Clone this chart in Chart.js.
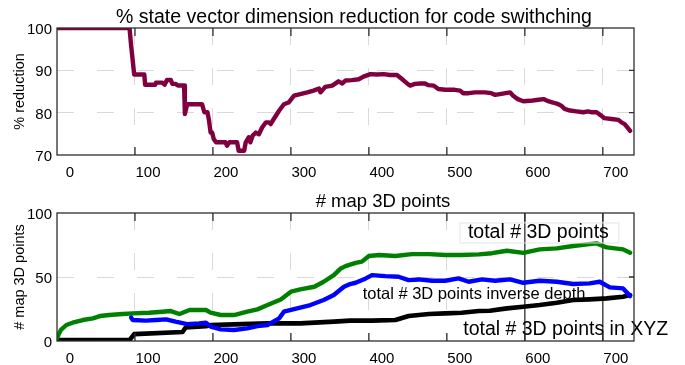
<!DOCTYPE html>
<html>
<head>
<meta charset="utf-8">
<script src="https://cdn.jsdelivr.net/npm/chart.js@4.4.1/dist/chart.umd.min.js"></script>
<style>
  html, body { margin: 0; padding: 0; background: #fff; }
  #wrap { position: relative; width: 685px; height: 365px; }
  canvas { position: absolute; left: 0; }
</style>
</head>
<body>
<div id="wrap">
  <canvas id="reduction" width="685" height="180" style="top:0"></canvas>
  <canvas id="points" width="685" height="185" style="top:180px"></canvas>
</div>
<script>
const FONT = '"Liberation Sans", Arial, Helvetica, sans-serif';

// axis ticks
const xTicks = [0, 100, 200, 300, 400, 500, 600, 700];
const reductionTicks = [70, 80, 90, 100];
const pointTicks = [0, 50, 100];

// % reduction of the state vector per frame
const reductionFrames = [0, 93, 95, 99, 112, 113, 126, 127, 135, 138, 141, 146, 148, 152, 155, 163, 164, 167, 186, 189,
  193, 195, 197, 199, 201, 204, 216, 218, 221, 231, 233, 240, 242, 246, 248, 251, 255, 259, 263, 268,
  272, 274, 278, 285, 291, 297, 304, 312, 321, 329, 336, 338, 344, 353, 361, 366, 370, 378, 387, 393,
  402, 410, 419, 427, 436, 440, 444, 449, 453, 459, 466, 472, 476, 483, 489, 498, 510, 517, 521, 528,
  536, 549, 557, 562, 568, 581, 585, 591, 598, 607, 615, 624, 630, 636, 643, 647, 651, 658, 666, 675,
  681, 685, 692, 698, 702, 711, 720, 724, 728, 732, 735];
const reductionPct = [100, 100, 96, 89, 89, 86.6, 86.6, 87.1, 87.1, 86.6, 87.7, 87.7, 86.8, 86.8, 86.4, 86.4, 79.7, 82, 82, 80.1,
  80.1, 78.1, 75.3, 75.3, 73.8, 73, 73, 72.2, 73, 73, 71, 71, 73, 74.2, 73, 74.6, 75.3, 74.9, 76.5, 77.7,
  77.7, 77.3, 78.5, 80.5, 82, 82.4, 84, 84.4, 84.8, 85.2, 85.7, 84.8, 86.1, 86.4, 87.4, 86.9, 87.6, 87.7, 87.9, 88.5,
  89.1, 89, 89.1, 88.9, 88.9, 88.3, 87.7, 86.9, 86.4, 86.8, 86.9, 86.9, 86.5, 86.4, 85.6, 85.4, 85.4, 85.2, 84.6, 84.6,
  84.8, 84.8, 84.6, 84.2, 84.4, 84.8, 84, 83.2, 82.7, 82.8, 83, 83.2, 82.7, 82.4, 82, 81.6, 80.9, 80.5, 80.3, 80.1,
  80.3, 80.1, 80.1, 79.3, 78.7, 78.5, 78.3, 77.7, 77.3, 76.4, 75.7];

// total number of map points
const totalFrames = [0, 2, 5, 12, 20, 33, 46, 55, 67, 84, 97, 118, 135, 146, 157, 170, 191, 197, 210, 227,
  244, 257, 270, 287, 300, 312, 330, 342, 355, 364, 370, 383, 391, 400, 413, 434, 455, 477, 498, 519,
  541, 558, 577, 598, 619, 641, 662, 683, 692, 705, 726, 735];
const totalPoints = [2, 5, 8.6, 12.5, 14.3, 16.4, 17.7, 19.5, 20.3, 21.1, 21.6, 22.1, 22.9, 23.4, 21.1, 24.2, 24.2, 22.1, 20.3, 20.3,
  22.9, 24.7, 28.1, 32.5, 38.5, 40.3, 42.4, 46.3, 51.5, 56.7, 58.5, 61, 62, 66.4, 67.2, 66.4, 67.9, 67.9, 67.2, 67.2,
  67.7, 68.6, 70.5, 68.9, 71.6, 72.4, 74.2, 75.7, 76.3, 73.1, 71.6, 68.9];

// points held in inverse depth
const invDepthFrames = [95, 97, 114, 127, 140, 152, 167, 182, 191, 197, 210, 227, 244, 257, 270, 285, 291, 308, 325, 342,
  355, 368, 376, 383, 396, 404, 421, 438, 451, 464, 481, 498, 515, 528, 545, 562, 581, 598, 619, 641,
  662, 683, 696, 709, 726, 735];
const invDepthPoints = [18.5, 16.4, 15.9, 16.4, 16.9, 15.1, 13.2, 13.8, 14.3, 11.2, 9.1, 8.6, 9.9, 11.7, 12.5, 17.7, 22.9, 25.5, 28.1, 32,
  35.9, 42.4, 44.5, 45.5, 48.9, 51.5, 50.7, 50.2, 47.6, 48.1, 47.1, 47.1, 48.9, 46.3, 48.1, 47.1, 48.1, 45.5, 47.1, 46.3,
  44.5, 45, 46.3, 41.9, 41.1, 35.1];

// points held in XYZ
const xyzFrames = [0, 93, 99, 161, 165, 191, 197, 227, 270, 312, 355, 376, 404, 434, 451, 477, 498, 519, 541, 555,
  577, 598, 619, 641, 662, 683, 705, 726, 735];
const xyzPoints = [0.7, 0.7, 5.4, 7, 10.6, 11.5, 12.5, 13, 13.8, 13.8, 15.1, 15.9, 15.9, 16.4, 19.5, 21.1, 21.6, 22.1, 23.4, 23.6,
  25.5, 26.8, 28.1, 29.9, 32, 32.5, 33.3, 34.6, 35.9];

// frames marked with solid vertical lines
const markerFrames = [600, 700];

function pairs(xs, ys) {
  return xs.map((x, i) => ({ x: x, y: ys[i] }));
}

// box, inner ticks, marker lines, text labels and the title
const boxPlugin = {
  id: 'box',
  beforeDatasetsDraw(chart, args, opts) {
    const { ctx, chartArea: a } = chart;
    const xs = chart.scales.x;
    ctx.save();
    ctx.strokeStyle = '#3c3c3c';
    ctx.lineWidth = 1.4;
    (opts.markers || []).forEach(v => {
      const px = xs.getPixelForValue(v);
      ctx.beginPath();
      ctx.moveTo(px, a.top);
      ctx.lineTo(px, a.bottom);
      ctx.stroke();
    });
    ctx.restore();
  },
  afterDatasetsDraw(chart, args, opts) {
    const { ctx } = chart;
    const xs = chart.scales.x, ys = chart.scales.y;
    ctx.save();
    (opts.labels || []).forEach(l => {
      ctx.font = l.size + 'px ' + FONT;
      ctx.textAlign = 'left';
      ctx.textBaseline = 'middle';
      const px = xs.getPixelForValue(l.x), py = ys.getPixelForValue(l.y);
      if (l.boxed) {
        const w = ctx.measureText(l.text).width;
        ctx.strokeStyle = '#e4e4e4';
        ctx.lineWidth = 1;
        ctx.strokeRect(px - 8, py - 10, w + 18, 20);
      }
      ctx.fillStyle = '#000';
      ctx.fillText(l.text, px, py);
    });
    ctx.restore();
  },
  afterDraw(chart, args, opts) {
    const { ctx, chartArea: a } = chart;
    const xs = chart.scales.x, ys = chart.scales.y;
    ctx.save();
    ctx.strokeStyle = '#2e2e2e';
    ctx.lineWidth = 1.3;
    ctx.strokeRect(a.left, a.top, a.right - a.left, a.bottom - a.top);
    ctx.beginPath();
    xTicks.forEach(v => {
      if (v <= xs.min || v >= xs.max) return;
      const px = xs.getPixelForValue(v);
      ctx.moveTo(px, a.top); ctx.lineTo(px, a.top + 8);
      ctx.moveTo(px, a.bottom); ctx.lineTo(px, a.bottom - 8);
    });
    (opts.yTicks || []).forEach(v => {
      if (v <= ys.min || v >= ys.max) return;
      const py = ys.getPixelForValue(v);
      ctx.moveTo(a.right, py); ctx.lineTo(a.right - 5, py);
    });
    ctx.stroke();
    if (opts.title) {
      ctx.font = opts.title.size + 'px ' + FONT;
      ctx.fillStyle = '#000';
      ctx.textAlign = 'center';
      ctx.textBaseline = 'alphabetic';
      ctx.fillText(opts.title.text, opts.title.cx, opts.title.y);
    }
    ctx.restore();
  }
};

function axisX(height) {
  return {
    type: 'linear', min: 0, max: 740,
    afterBuildTicks: s => { s.ticks = xTicks.map(v => ({ value: v })); },
    afterFit: s => { s.height = height; },
    grid: {
      drawTicks: false,
      lineWidth: 1,
      color: c => (c.tick && c.tick.value > 0) ? '#d9d9d9' : 'rgba(0,0,0,0)'
    },
    border: { display: false, dash: [17, 23] },
    ticks: {
      padding: 9, labelOffset: 13, autoSkip: false, maxRotation: 0,
      color: '#000', font: { family: FONT, size: 15 }
    }
  };
}

function axisY(min, max, tickList, title) {
  return {
    type: 'linear', min: min, max: max,
    afterBuildTicks: s => { s.ticks = tickList.map(v => ({ value: v })); },
    afterFit: s => { s.width = 57; },
    grid: {
      drawTicks: false,
      lineWidth: 1,
      color: c => (c.tick && c.tick.value > min && c.tick.value < max) ? '#d9d9d9' : 'rgba(0,0,0,0)'
    },
    border: { display: false, dash: [17, 23] },
    ticks: { padding: 5, labelOffset: 2, color: '#000', font: { family: FONT, size: 15 } },
    title: {
      display: true, text: title, color: '#000',
      font: { family: FONT, size: 14.5 }, padding: { top: 11, bottom: 0 }
    }
  };
}

function lineSet(data, color, width) {
  return {
    data: data, borderColor: color, backgroundColor: color, borderWidth: width,
    pointRadius: 0, tension: 0, fill: false,
    borderJoinStyle: 'round', borderCapStyle: 'round'
  };
}

const common = {
  responsive: false,
  animation: false,
  events: [],
  plugins: { legend: { display: false }, tooltip: { enabled: false } }
};

new Chart(document.getElementById('reduction'), {
  type: 'line',
  data: { datasets: [lineSet(pairs(reductionFrames, reductionPct), '#80003f', 4.4)] },
  options: Object.assign({}, common, {
    layout: { padding: { left: 0, right: 51, top: 28, bottom: 0 } },
    scales: { x: axisX(25), y: axisY(70, 100, reductionTicks, '% reduction') },
    plugins: Object.assign({}, common.plugins, {
      box: {
        yTicks: reductionTicks,
        title: { text: '% state vector dimension reduction for code swithching', cx: 354, y: 23, size: 19.5 }
      }
    })
  }),
  plugins: [boxPlugin]
});

new Chart(document.getElementById('points'), {
  type: 'line',
  data: {
    datasets: [
      lineSet(pairs(totalFrames, totalPoints), '#008000', 4.4),
      lineSet(pairs(invDepthFrames, invDepthPoints), '#0000ff', 4.4),
      lineSet(pairs(xyzFrames, xyzPoints), '#000000', 4.6)
    ]
  },
  options: Object.assign({}, common, {
    layout: { padding: { left: 0, right: 51, top: 33, bottom: 0 } },
    scales: { x: axisX(24), y: axisY(0, 100, pointTicks, '# map 3D points') },
    plugins: Object.assign({}, common.plugins, {
      box: {
        yTicks: pointTicks,
        markers: markerFrames,
        title: { text: '# map 3D points', cx: 383, y: 26.5, size: 18.5 },
        labels: [
          { text: 'total # 3D points', x: 527, y: 84.4, size: 19.5, boxed: true },
          { text: 'total # 3D points inverse depth', x: 392, y: 36.2, size: 16.5 },
          { text: 'total # 3D points in XYZ', x: 521, y: 8.6, size: 19.5 }
        ]
      }
    })
  }),
  plugins: [boxPlugin]
});
</script>
</body>
</html>
